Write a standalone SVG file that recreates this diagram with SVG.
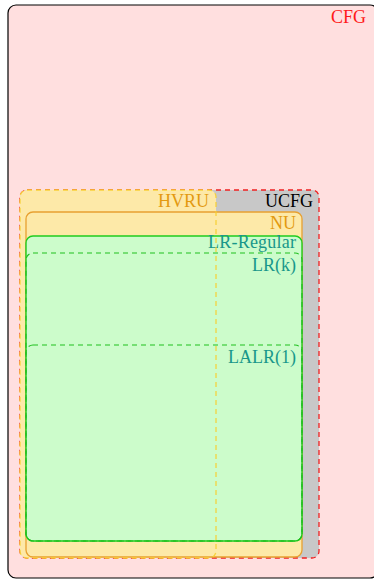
<svg xmlns="http://www.w3.org/2000/svg" width="374" height="579" viewBox="0 0 374 579">
<style>
text{font-family:"Liberation Serif","DejaVu Serif",serif;font-size:18px;text-anchor:end}
.cfg{fill:#ffdfdf;stroke:#000;stroke-width:1.2}
.ucfg{fill:#c8c8c8;stroke:#ee2222;stroke-width:1.3;stroke-dasharray:5 4}
.hvru{fill:#fde9a8;stroke:none}
.hvrub{fill:none;stroke:#f7cf30;stroke-width:1.3;stroke-dasharray:5 4;opacity:0.9}
.nu{fill:#fde9a8;stroke:#e8a030;stroke-width:1.3}
.lrr{fill:#ccfccb;stroke:#1fcc1f;stroke-width:1.4}
.dash{fill:none;stroke:#1fbf1f;stroke-width:1.1;stroke-dasharray:5 4}
.o{fill:#e39a10}
.t{fill:#18978a}
</style>
<g id="CFG">
<rect class="cfg" x="8" y="5" width="370" height="573" rx="8"/>
<text x="366" y="23" fill="#ff1a1a">CFG</text>
</g>
<g id="UCFG">
<rect class="ucfg" x="20" y="190" width="299" height="368" rx="7"/>
<text x="313" y="207" fill="#000">UCFG</text>
</g>
<g id="HVRU">
<rect class="hvru" x="20" y="190" width="196" height="368" rx="7"/>
<text class="o" x="209" y="207">HVRU</text>
</g>
<g id="NU">
<rect class="nu" x="26" y="212" width="276" height="345" rx="7"/>
<text class="o" x="296" y="229">NU</text>
</g>
<g id="LR-Regular">
<rect class="lrr" x="26" y="236" width="276" height="305" rx="7"/>
<text class="t" x="296" y="248" textLength="88" lengthAdjust="spacing">LR-Regular</text>
</g>
<g id="LRk">
<rect class="dash" x="26" y="253" width="276" height="288" rx="7"/>
<text class="t" x="296" y="271">LR(k)</text>
</g>
<g id="LALR1">
<rect class="dash" x="26" y="345" width="276" height="196" rx="7"/>
<text class="t" x="296" y="363">LALR(1)</text>
</g>
<g id="connectors">
<rect class="hvrub" x="20" y="190" width="196" height="368" rx="7"/>
</g>
</svg>
